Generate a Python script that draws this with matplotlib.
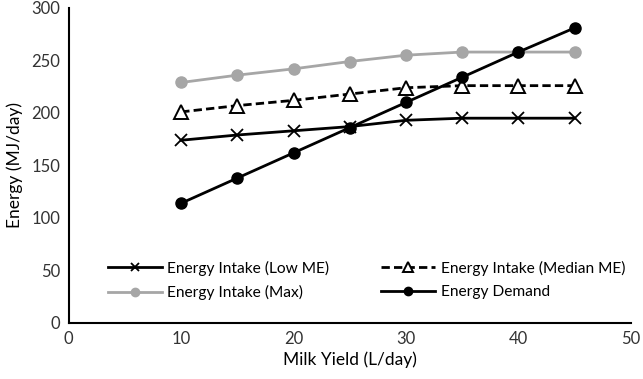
import matplotlib as mpl

mpl.use('Agg')
import matplotlib.pyplot as plt

# milk yield (L/day) and energy values
milk_yield = [10, 15, 20, 25, 30, 35, 40, 45]
intake_low_me = [174, 179, 183, 187, 193, 195, 195, 195]
intake_median_me = [201, 207, 212, 218, 224, 226, 226, 226]
intake_max = [229, 236, 242, 249, 255, 258, 258, 258]
energy_demand = [114, 138, 162, 186, 210, 234, 258, 281]

plt.rcParams['font.family'] = ['Lato', 'DejaVu Sans']

fig = plt.figure(figsize=(6.43, 3.79), dpi=100)
ax = fig.add_axes([0.107, 0.148, 0.874, 0.831])

grey = '#a6a6a6'

l_low, = ax.plot(milk_yield, intake_low_me, color='black', lw=2,
                 marker='x', ms=8, mew=1.3, label='Energy Intake (Low ME)')
l_med, = ax.plot(milk_yield, intake_median_me, color='black', lw=2, ls=(0, (3, 1.5)),
                 marker='^', ms=10, mfc='white', mec='black', mew=1.4,
                 label='Energy Intake (Median ME)')
l_max, = ax.plot(milk_yield, intake_max, color=grey, lw=2,
                 marker='o', ms=8, label='Energy Intake (Max)')
l_dem, = ax.plot(milk_yield, energy_demand, color='black', lw=2,
                 marker='o', ms=8, label='Energy Demand')

ax.set_xlim(0, 50)
ax.set_ylim(0, 300)
ax.set_xticks(range(0, 51, 10))
ax.set_yticks(range(0, 301, 50))

for side in ['top', 'right']:
    ax.spines[side].set_visible(False)
for side in ['left', 'bottom']:
    ax.spines[side].set_linewidth(1.5)
ax.tick_params(length=0, labelsize=12, colors='#333333', pad=6)

ax.set_xlabel('Milk Yield (L/day)', fontsize=12.5, labelpad=3)
ax.set_ylabel('Energy (MJ/day)', fontsize=12.5, labelpad=6)

leg = ax.legend([l_low, l_max, l_med, l_dem],
                [l_low.get_label(), l_max.get_label(), l_med.get_label(), l_dem.get_label()],
                ncol=2, loc='lower left', bbox_to_anchor=(0.044, 0.028),
                frameon=False, fontsize=11.2, handlelength=3.5,
                columnspacing=3.3, labelspacing=0.6, handletextpad=0.35,
                markerscale=0.75)

fig.savefig('out.png', dpi=100)
